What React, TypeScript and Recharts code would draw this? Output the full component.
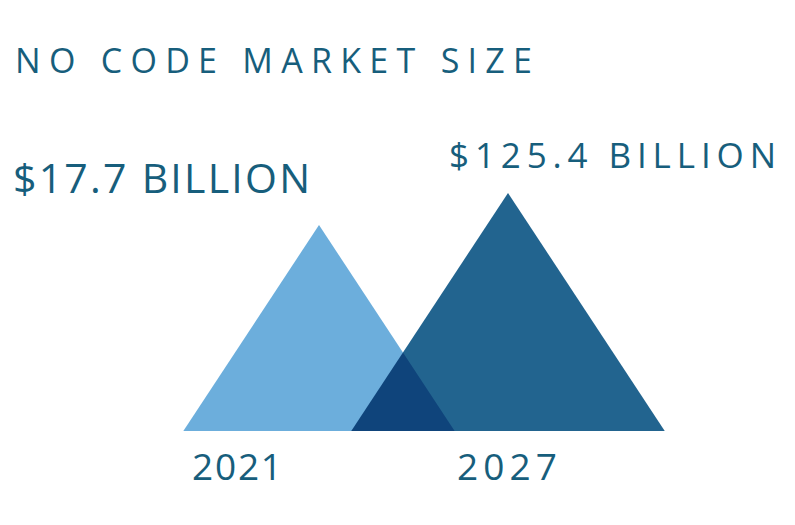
import React from 'react';
import { BarChart, Bar, XAxis, YAxis, LabelList, Cell } from 'recharts';

const title = 'NO CODE MARKET SIZE';
const years = ['2021', '2027'];
const marketSize = [17.7, 125.4];
const valueLabels = ['$17.7 BILLION', '$125.4 BILLION'];
const fills = ['#6CAEDC', '#22648F'];

const data = years.map((year, i) => ({ year, value: marketSize[i], label: valueLabels[i] }));

const TEXT = '#175E7C';
const FONT = '"Open Sans", Lato, sans-serif';
const WEIGHT = 500;

// styling offsets for labels (relative to the triangle apex / band centre)
const labelStyle = [
  { dx: -306, dy: -32, size: 41, len: 297 },
  { dx: -59, dy: -25, size: 35, len: 327 },
];
const tickStyle = [
  { dx: -127, len: 90 },
  { dx: -51, len: 100 },
];

const Triangle = (props: any) => {
  const { x, y, width, height, index, fill } = props;
  if (!height || height <= 0) return null;
  const cx = x + width / 2;
  const half = (height * 1.317) / 2;
  const base = y + height;
  const pts = `${cx - half},${base} ${cx},${y} ${cx + half},${base}`;
  return (
    <polygon
      points={pts}
      fill={fill}
      style={index > 0 ? { mixBlendMode: 'multiply' } : undefined}
    />
  );
};

const ValueLabel = (props: any) => {
  const { x, y, width, index, value } = props;
  const s = labelStyle[index];
  const cx = x + width / 2;
  return (
    <text
      x={cx + s.dx}
      y={y + s.dy}
      fill={TEXT}
      fontFamily={FONT}
      fontWeight={WEIGHT}
      fontSize={s.size}
      textLength={s.len}
      lengthAdjust="spacing"
      textAnchor="start"
    >
      {value}
    </text>
  );
};

const YearTick = (props: any) => {
  const { x, y, payload, index } = props;
  const s = tickStyle[index] || tickStyle[0];
  return (
    <text
      x={x + s.dx}
      y={y + 49}
      fill={TEXT}
      fontFamily={FONT}
      fontWeight={WEIGHT}
      fontSize={37}
      textLength={s.len}
      lengthAdjust="spacing"
      textAnchor="start"
    >
      {payload.value}
    </text>
  );
};

export default function App() {
  return (
    <div style={{ position: 'absolute', left: 0, top: 0, width: 795, height: 525, background: '#fff' }}>
      <svg width={795} height={525} style={{ position: 'absolute', left: 0, top: 0 }}>
        <text
          x={15}
          y={73}
          fill={TEXT}
          fontFamily={FONT}
          fontWeight={WEIGHT}
          fontSize={34}
          textLength={517}
          lengthAdjust="spacing"
        >
          {title}
        </text>
      </svg>
      <div style={{ position: 'absolute', left: 0, top: 0 }}>
        <BarChart
          width={795}
          height={525}
          data={data}
          margin={{ top: 159, right: 192.5, bottom: 34, left: 224.5 }}
          barCategoryGap={0}
        >
          <XAxis
            dataKey="year"
            axisLine={false}
            tickLine={false}
            tickSize={0}
            tickMargin={0}
            height={60}
            interval={0}
            tick={<YearTick />}
          />
          <YAxis
            hide
            type="number"
            scale="log"
            domain={[0.00006, 1000]}
            allowDataOverflow
          />
          <Bar dataKey="value" isAnimationActive={false} shape={<Triangle />}>
            {data.map((d, i) => (
              <Cell key={d.year} fill={fills[i]} />
            ))}
            <LabelList dataKey="label" content={<ValueLabel />} />
          </Bar>
        </BarChart>
      </div>
    </div>
  );
}
